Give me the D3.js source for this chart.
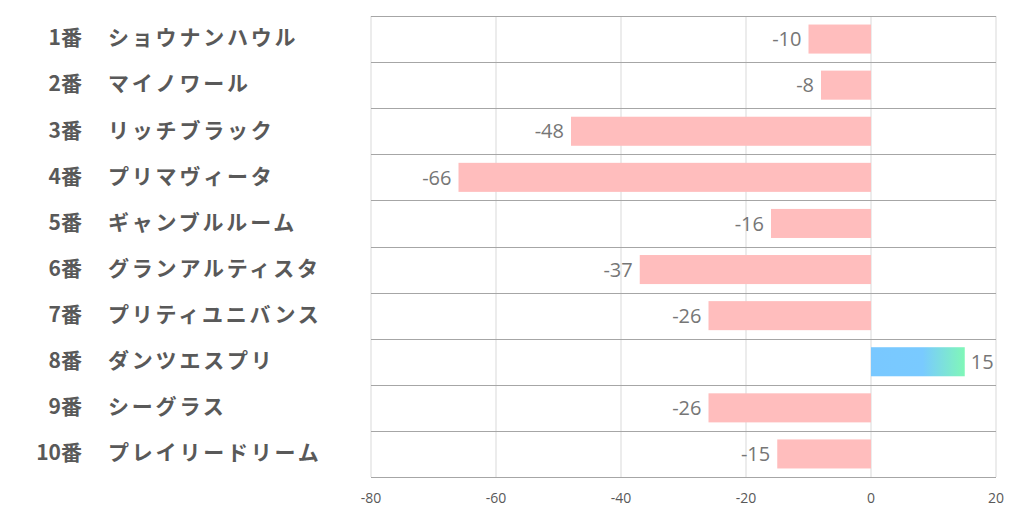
<!DOCTYPE html>
<html lang="ja">
  <head>
    <meta charset="utf-8">
    <title>Chart</title>
    <style>
      body { margin: 0; background: #ffffff; }
      .num_lbl { font-family: "Noto Sans CJK JP", sans-serif; font-size: 21px; font-weight: bold; fill: #595959; }
      .name_lbl { font-family: "Noto Sans CJK JP", sans-serif; font-size: 21px; font-weight: bold; fill: #595959; letter-spacing: 2.8px; }
      .val_lbl { font-family: "Open Sans", "Liberation Sans", sans-serif; font-size: 20px; fill: #767676; }
      .tick_lbl { font-family: "Open Sans", "Liberation Sans", sans-serif; font-size: 14px; fill: #595959; }
    </style>
    <script src="https://cdn.jsdelivr.net/npm/d3@7"></script>
  </head>
  <body>
    <div id="container"></div>
    <script>
      // ---------------- DATA ----------------
      var numbers = ["1番","2番","3番","4番","5番","6番","7番","8番","9番","10番"];
      var names = ["ショウナンハウル","マイノワール","リッチブラック","プリマヴィータ","ギャンブルルーム",
                   "グランアルティスタ","プリティユニバンス","ダンツエスプリ","シーグラス","プレイリードリーム"];
      var values = [-10, -8, -48, -66, -16, -37, -26, 15, -26, -15];
      var xTicks = [-80, -60, -40, -20, 0, 20];

      var width = 1022, height = 522;
      var plotLeft = 371, plotRight = 996, plotTop = 16, plotBottom = 477;

      var svg = d3.select("#container").append("svg")
                  .attr("width", width)
                  .attr("height", height);

      var defs = svg.append("defs");
      var grad = defs.append("linearGradient")
                  .attr("id", "posGrad")
                  .attr("x1", "0%").attr("x2", "100%")
                  .attr("y1", "0%").attr("y2", "0%");
      grad.append("stop").attr("offset", "0%").attr("stop-color", "#79c8ff");
      grad.append("stop").attr("offset", "55%").attr("stop-color", "#79caff");
      grad.append("stop").attr("offset", "100%").attr("stop-color", "#80f7b8");

      var x = d3.scaleLinear().domain([-80, 20]).range([plotLeft, plotRight]);
      var y = d3.scaleBand().domain(d3.range(values.length))
                .range([plotTop, plotBottom]).paddingInner(0.37).paddingOuter(0.185);
      var rowH = (plotBottom - plotTop) / values.length;

      // vertical gridlines
      svg.append("g").selectAll("line")
         .data(xTicks).enter().append("line")
         .attr("x1", function(d){ return x(d); })
         .attr("x2", function(d){ return x(d); })
         .attr("y1", plotTop).attr("y2", plotBottom)
         .attr("stroke", "#d9d9d9").attr("stroke-width", 1);

      // horizontal row lines
      svg.append("g").selectAll("line")
         .data(d3.range(values.length + 1)).enter().append("line")
         .attr("x1", plotLeft).attr("x2", plotRight)
         .attr("y1", function(i){ return Math.round(plotTop + i * rowH) + 0.5; })
         .attr("y2", function(i){ return Math.round(plotTop + i * rowH) + 0.5; })
         .attr("stroke", "#a6a6a6").attr("stroke-width", 1);

      // bars
      svg.append("g").selectAll("rect")
         .data(values).enter().append("rect")
         .attr("x", function(d){ return x(Math.min(0, d)); })
         .attr("y", function(d, i){ return y(i); })
         .attr("width", function(d){ return Math.abs(x(d) - x(0)); })
         .attr("height", y.bandwidth())
         .attr("fill", function(d){ return d < 0 ? "#ffbdbd" : "url(#posGrad)"; });

      // value labels
      svg.append("g").selectAll("text")
         .data(values).enter().append("text")
         .attr("class", "val_lbl")
         .attr("x", function(d){ return d < 0 ? x(d) - 7 : x(d) + 6; })
         .attr("y", function(d, i){ return y(i) + y.bandwidth() / 2; })
         .attr("dy", "0.36em")
         .attr("text-anchor", function(d){ return d < 0 ? "end" : "start"; })
         .text(function(d){ return d; });

      // category labels
      svg.append("g").selectAll("text")
         .data(numbers).enter().append("text")
         .attr("class", "num_lbl")
         .attr("x", 82)
         .attr("y", function(d, i){ return y(i) + y.bandwidth() / 2; })
         .attr("dy", "0.3em")
         .attr("text-anchor", "end")
         .text(function(d){ return d; });

      svg.append("g").selectAll("text")
         .data(names).enter().append("text")
         .attr("class", "name_lbl")
         .attr("x", 108)
         .attr("y", function(d, i){ return y(i) + y.bandwidth() / 2; })
         .attr("dy", "0.3em")
         .text(function(d){ return d; });

      // x axis tick labels
      svg.append("g").selectAll("text")
         .data(xTicks).enter().append("text")
         .attr("class", "tick_lbl")
         .attr("x", function(d){ return x(d); })
         .attr("y", 503)
         .attr("text-anchor", "middle")
         .text(function(d){ return d; });
    </script>
  </body>
</html>
